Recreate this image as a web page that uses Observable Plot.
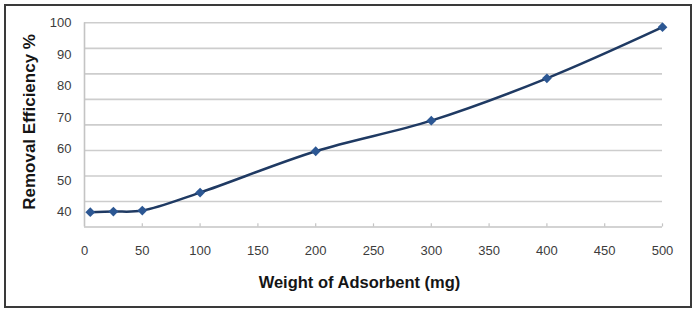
<!DOCTYPE html>
<html>
<head>
<meta charset="utf-8">
<script src="https://cdn.jsdelivr.net/npm/d3@7"></script>
<script src="https://cdn.jsdelivr.net/npm/@observablehq/plot@0.6"></script>
<style>
  html, body { margin: 0; padding: 0; background: #fff; }
  #wrap { position: relative; width: 700px; height: 314px; }
  #border {
    position: absolute; left: 4px; top: 4px; width: 684px; height: 300px;
    border: 2px solid #3a3a3a; pointer-events: none;
  }
</style>
</head>
<body>
<div id="wrap"><div id="border"></div></div>
<script>
// Adsorbent dose (mg) and the resulting removal efficiency (%)
const weights = [5, 25, 50, 100, 200, 300, 400, 500];
const efficiency = [40.0, 40.2, 40.5, 46.2, 59.3, 69.0, 82.4, 98.6];

const xTicks = [0, 50, 100, 150, 200, 250, 300, 350, 400, 450, 500];
const yTicks = [40, 50, 60, 70, 80, 90, 100];

const xTitle = "Weight of Adsorbent (mg)";
const yTitle = "Removal Efficiency %";

const data = weights.map((w, i) => ({weight: w, efficiency: efficiency[i]}));

const yMin = 35.3, yMax = 100;
// eight equal bands of horizontal gridlines across the plot area
const gridLines = d3.range(1, 9).map(i => yMin + i * (yMax - yMin) / 8);

// filled diamond with equal width and height
const squareDiamond = {
  draw(context, size) {
    const s = Math.sqrt(size / 2);
    context.moveTo(0, -s);
    context.lineTo(s, 0);
    context.lineTo(0, s);
    context.lineTo(-s, 0);
    context.closePath();
  }
};

const chart = Plot.plot({
  width: 700,
  height: 314,
  marginLeft: 84,
  marginRight: 38,
  marginTop: 22.3,
  marginBottom: 87.5,
  style: {fontFamily: "'Liberation Sans', Arial, sans-serif", background: "transparent"},
  x: {domain: [0, 500]},
  y: {domain: [yMin, yMax]},
  marks: [
    Plot.ruleY(gridLines, {stroke: "#cdcdcd", strokeWidth: 1.6}),
    Plot.ruleY([yMin], {stroke: "#c4c4c4", strokeWidth: 1.6}),
    Plot.ruleX([0], {stroke: "#c4c4c4", strokeWidth: 1.6}),
    Plot.ruleX(xTicks.slice(1), {y1: yMin, y2: yMin + 1, stroke: "#c4c4c4", strokeWidth: 1.2}),
    Plot.axisX({ticks: xTicks, tickSize: 0, tickPadding: 19, fontSize: 13, color: "#3c3c3c", label: null, tickFormat: d => String(d)}),
    Plot.axisY({ticks: yTicks, tickSize: 0, tickPadding: 13, fontSize: 13, color: "#3c3c3c", label: null, tickFormat: d => String(d)}),
    Plot.line(data, {x: "weight", y: "efficiency", curve: "catmull-rom", stroke: "#1f3a63", strokeWidth: 2.5}),
    Plot.dot(data, {x: "weight", y: "efficiency", symbol: squareDiamond, r: 3.9, fill: "#2c5793", stroke: "none"}),
    Plot.text([xTitle], {frameAnchor: "bottom", dx: -14, dy: 60.5, fontSize: 16.5, fontWeight: "bold", fill: "#151515"}),
    Plot.text([yTitle], {frameAnchor: "left", textAnchor: "middle", rotate: -90, dx: -55, dy: -3, fontSize: 17, fontWeight: "bold", fill: "#151515"})
  ]
});

document.getElementById("wrap").prepend(chart);
</script>
</body>
</html>
